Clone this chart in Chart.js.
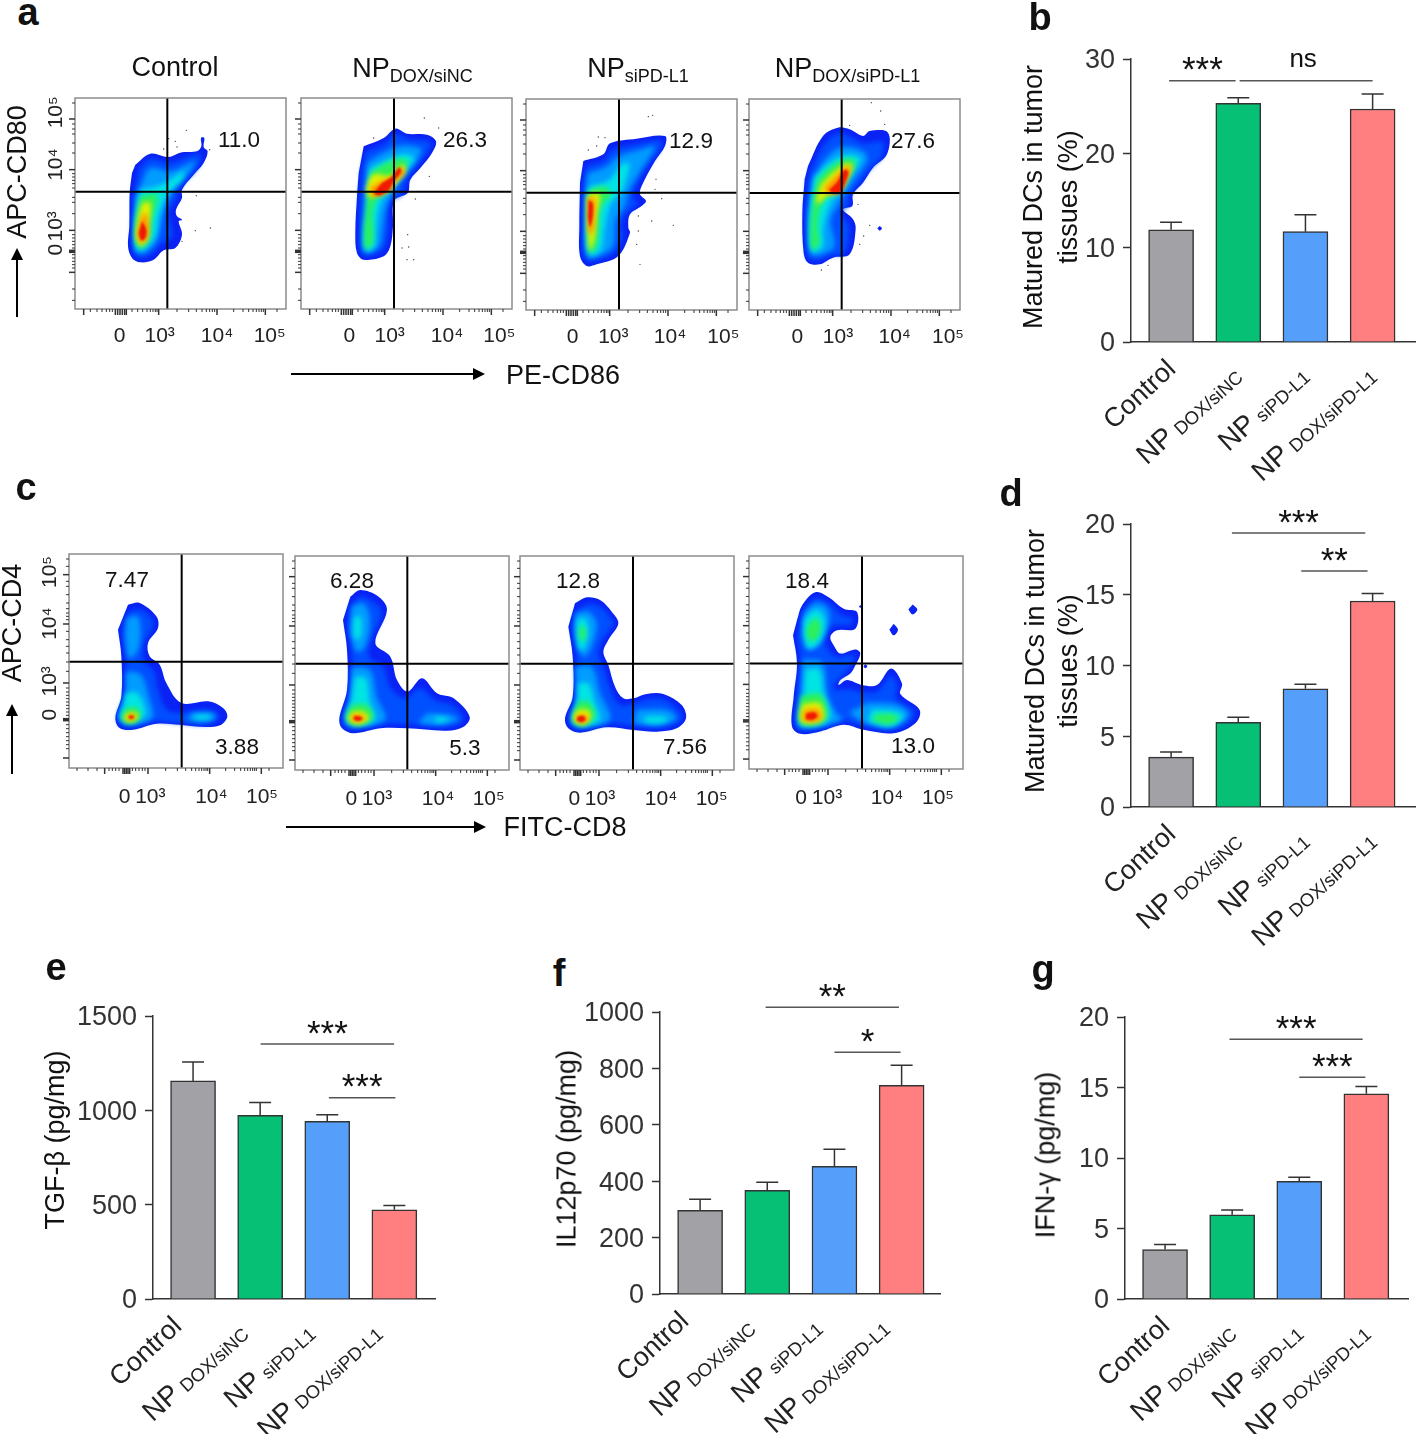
<!DOCTYPE html>
<html>
<head>
<meta charset="utf-8">
<script src="https://cdn.jsdelivr.net/npm/chart.js@4"></script>
<style>
html, body { margin: 0; background: #fff; }
#page { position: relative; width: 1416px; height: 1434px; overflow: hidden; font-family: "Liberation Sans", Arial, sans-serif; color: #111; }
#page canvas { position: absolute; }
.txt { position: absolute; white-space: nowrap; line-height: 1; transform-origin: center; }
.txt sub { font-size: 18px; vertical-align: -5px; line-height: 0; }
.line { position: absolute; background: #000; }
.head { position: absolute; width: 0; height: 0; border-style: solid; border-color: transparent; }
</style>
</head>
<body>
<div id="page"></div>
<script>
// bar panels
var catMain = ['Control', 'NP', 'NP', 'NP'];
var catSub = ['', 'DOX/siNC', 'siPD-L1', 'DOX/siPD-L1'];
var barColors = ['#a2a1a6', '#06c076', '#559ffb', '#ff7f80'];

var bValues = [11.9, 25.3, 11.7, 24.7];
var bTops = [12.7, 25.9, 13.5, 26.3];
var bTicks = [0, 10, 20, 30];
var bSigFrom = [-0.03, 1.02];
var bSigTo = [0.96, 3.0];
var bSigY = [27.7, 27.7];
var bSigText = ['***', 'ns'];

var dValues = [3.53, 5.98, 8.36, 14.56];
var dTops = [3.89, 6.34, 8.67, 15.08];
var dTicks = [0, 5, 10, 15, 20];
var dSigFrom = [0.905, 1.937];
var dSigTo = [2.89, 2.924];
var dSigY = [19.36, 16.68];
var dSigText = ['***', '**'];

var eValues = [1156, 974, 942, 473];
var eTops = [1256, 1041, 976, 496];
var eTicks = [0, 500, 1000, 1500];
var eSigFrom = [1.007, 2.024];
var eSigTo = [2.996, 3.016];
var eSigY = [1351, 1067];
var eSigText = ['***', '***'];

var fValues = [297, 368, 453, 740];
var fTops = [336, 396, 513, 811];
var fTicks = [0, 200, 400, 600, 800, 1000];
var fSigFrom = [0.975, 2.0];
var fSigTo = [2.96, 2.985];
var fSigY = [1016.5, 857];
var fSigText = ['**', '*'];

var gValues = [3.51, 5.97, 8.35, 14.55];
var gTops = [3.87, 6.32, 8.63, 15.07];
var gTicks = [0, 5, 10, 15, 20];
var gSigFrom = [0.96, 2.0];
var gSigTo = [2.945, 2.985];
var gSigY = [18.42, 15.73];
var gSigText = ['***', '***'];

// flow plots, channels run 0..633 (row a) and 0..642 (row c)
var densityColors = ['#0a22f4', '#0050ff', '#009cff', '#00e4e4', '#2cf058', '#e8ef00', '#ff9000', '#f01a00'];
var xTickLabels = ['0', '10\u00b3', '10\u2074', '10\u2075'];
var yTickLabels = ['10\u2075', '10\u2074', '10\u00b3', '0'];

var aXMajor = [26, 121, 128, 135, 142, 149, 154, 251, 426, 571];
var aXMinor = [46, 66, 81, 94, 104, 112, 171, 188, 203, 216, 226, 234, 241, 246, 306, 341, 364, 381, 394, 404, 412, 419, 476, 504, 521, 534, 544, 552, 559, 565, 606];
var aYMajor = [570, 418, 236, 170, 173, 176, 110];
var aYMinor = [618, 555, 540, 525, 498, 468, 406, 396, 386, 376, 363, 335, 320, 286, 223, 213, 203, 193, 183, 163, 153, 143, 133, 123, 60, 26];
var aYLabelAt = [590, 433, 248, 178];

var cXMajor = [107, 162, 167, 172, 177, 182, 237, 422, 577];
var cXMinor = [24, 57, 84, 120, 130, 140, 150, 190, 200, 210, 220, 228, 290, 325, 350, 368, 380, 390, 398, 405, 411, 416, 470, 497, 515, 527, 536, 544, 551, 557, 562, 600];
var cYMajor = [580, 432, 255, 142, 145, 148, 30];
var cYMinor = [627, 605, 560, 545, 520, 495, 478, 465, 455, 445, 410, 385, 365, 345, 318, 290, 240, 228, 218, 208, 198, 188, 178, 168, 158, 130, 118, 106, 94, 82, 70, 58];
var cYLabelAt = [588, 433, 260, 160];

var a1XLabelAt = [134, 254, 426, 584];
var a1GateX = 277, a1GateY = 352;
var a1Dots = [[334,536],[301,503],[281,511],[266,480],[306,486],[404,478],[364,340],[406,243],[361,235],[321,203]];
var a1Contours = [
  [0, 181,433, 226,466, 281,456, 321,470, 366,473, 379,488, 378,513, 388,513, 386,486, 398,473, 386,438, 356,403, 321,358, 321,333, 303,298, 306,278, 321,268, 311,263, 321,223, 301,183, 266,176, 236,148, 196,140, 171,153, 159,188, 163,248, 164,348, 171,408],
  [1, 191,418, 226,450, 286,438, 336,456, 376,463, 366,423, 316,368, 301,328, 281,288, 291,218, 256,193, 226,163, 191,156, 174,183, 176,338],
  [2, 196,368, 226,423, 286,413, 336,433, 361,443, 341,408, 296,358, 271,308, 246,208, 216,173, 186,168, 178,208, 181,328],
  [3, 196,358, 246,368, 286,388, 326,413, 321,388, 281,348, 251,278, 241,218, 206,178, 184,183, 181,268],
  [4, 196,338, 246,343, 231,268, 221,208, 196,183, 181,208, 184,278],
  [5, 201,318, 226,318, 221,248, 216,208, 196,190, 184,218, 191,278],
  [6, 204,288, 216,278, 219,218, 201,198, 188,218, 194,258],
  [7, 201,263, 214,238, 211,213, 198,206, 191,228]
];

var a2XLabelAt = [145, 266, 438, 595];
var a2GateX = 279, a2GateY = 352;
var a2Dots = [[370,573],[413,543],[218,513],[385,398],[343,330],[320,223],[303,183],[323,186],[318,148],[338,148]];
var a2Contours = [
  [0, 188,488, 248,513, 283,541, 318,526, 378,523, 405,503, 393,468, 358,423, 328,388, 320,348, 280,326, 276,248, 268,188, 248,158, 188,148, 168,168, 163,228, 168,338, 173,408],
  [1, 195,470, 250,495, 285,525, 320,510, 380,505, 390,495, 375,465, 340,420, 310,375, 305,345, 265,320, 262,240, 250,185, 235,170, 190,160, 178,180, 175,240, 178,340, 182,410],
  [2, 200,440, 250,470, 300,490, 360,480, 350,450, 310,400, 280,360, 255,300, 245,240, 235,190, 195,170, 185,200, 190,300],
  [3, 205,420, 255,445, 310,465, 340,450, 300,400, 275,360, 240,320, 225,240, 220,185, 195,175, 190,220, 200,300],
  [4, 210,410, 240,430, 290,450, 320,445, 290,395, 265,365, 230,335, 215,290, 215,200, 195,180, 190,230, 195,290, 200,350],
  [5, 205,390, 220,405, 270,400, 300,430, 315,425, 300,395, 270,365, 235,345, 205,335, 195,360],
  [6, 210,365, 245,385, 275,395, 305,425, 310,405, 285,385, 265,355, 235,340, 210,340],
  [7, 218,345, 240,375, 270,395, 295,425, 300,410, 280,385, 262,355, 235,340]
];

var a3XLabelAt = [140, 262, 432, 592];
var a3GateX = 279, a3GateY = 352;
var a3Dots = [[367,580],[380,584],[217,519],[237,517],[277,509],[212,492],[187,480],[390,392],[387,362],[407,334],[337,282],[377,267],[442,254],[337,237],[332,197],[342,137]];
var a3Contours = [
  [0, 172,447, 232,467, 252,500, 332,514, 417,522, 417,492, 387,447, 347,372, 342,347, 360,327, 347,312, 312,287, 307,247, 312,232, 277,162, 212,137, 182,132, 162,162, 160,252, 162,382],
  [1, 180,430, 235,450, 260,480, 335,498, 405,508, 400,480, 370,440, 330,370, 320,335, 335,320, 300,290, 285,250, 290,220, 262,170, 212,150, 185,148, 172,170, 170,250, 172,380],
  [2, 185,410, 240,430, 275,460, 340,480, 385,490, 345,420, 310,360, 295,310, 270,270, 260,190, 210,160, 185,160, 178,250, 180,360],
  [3, 190,370, 250,390, 285,435, 310,440, 300,390, 285,350, 255,320, 235,240, 225,180, 195,165, 182,200, 182,320],
  [4, 188,360, 235,370, 255,345, 225,310, 218,240, 210,190, 190,170, 185,230],
  [5, 185,345, 220,350, 212,280, 205,210, 192,180, 186,230],
  [6, 185,335, 205,335, 205,280, 197,225, 186,240],
  [7, 188,330, 200,320, 200,280, 192,250, 186,280]
];

var a4XLabelAt = [145, 267, 437, 597];
var a4GateX = 278, a4GateY = 351;
var a4Dots = [[367,622],[395,597],[407,557],[302,554],[327,317],[362,254],[344,222],[332,197],[237,134],[217,120]];
var a4Contours = [
  [0, 177,432, 222,522, 267,547, 302,542, 342,522, 362,537, 417,532, 414,467, 372,427, 342,382, 312,347, 310,312, 282,302, 312,272, 320,242, 302,167, 252,157, 212,137, 177,142, 164,172, 160,292, 167,392],
  [0, 392,252, 399,245, 392,238, 385,245],
  [1, 185,420, 225,495, 270,530, 345,500, 400,505, 400,465, 360,420, 330,380, 300,340, 295,310, 275,295, 300,250, 285,170, 245,165, 210,150, 180,155, 172,180, 170,290, 175,380],
  [2, 195,400, 235,460, 280,490, 345,475, 355,450, 320,395, 285,345, 265,310, 245,270, 255,190, 210,165, 185,170, 180,290],
  [3, 195,395, 240,440, 290,465, 335,455, 310,410, 280,360, 245,320, 222,240, 222,190, 190,175, 180,240, 185,320],
  [4, 205,390, 245,430, 300,455, 320,440, 295,395, 270,360, 225,330, 205,260, 210,200, 190,180, 185,250, 192,320],
  [5, 215,375, 250,410, 295,440, 310,430, 295,400, 270,365, 230,340, 210,320, 200,325],
  [6, 225,365, 255,395, 290,430, 305,425, 295,395, 275,355, 240,345],
  [7, 240,360, 265,385, 285,420, 298,415, 290,385, 272,350, 250,350]
];

var c1XLabelAt = [167, 244, 427, 579];
var c1GateX = 338, c1GateY = 319;
var c1Contours = [
  [0, 177,490, 212,495, 262,455, 267,420, 237,375, 242,335, 272,310, 292,255, 337,195, 417,200, 462,180, 475,155, 457,130, 412,123, 332,130, 262,133, 192,115, 152,120, 139,150, 157,215, 157,335, 147,415],
  [1, 180,470, 215,475, 250,445, 250,420, 225,375, 225,320, 255,290, 265,240, 300,170, 400,175, 445,165, 440,140, 400,130, 300,138, 240,140, 192,125, 155,130, 148,155, 170,215, 170,335, 160,410],
  [2, 172,450, 205,455, 215,410, 205,350, 180,330, 168,390],
  [2, 170,290, 215,280, 240,210, 250,150, 190,130, 155,140, 150,160, 170,220],
  [2, 370,165, 430,165, 440,150, 400,140, 350,145],
  [3, 170,225, 205,225, 230,170, 220,150, 185,138, 155,150, 165,190],
  [3, 375,158, 420,158, 425,148, 380,145],
  [4, 172,180, 205,180, 215,155, 195,135, 165,138, 158,155],
  [5, 175,165, 200,165, 207,152, 190,140, 170,142, 165,152],
  [6, 178,160, 195,160, 200,152, 187,145, 175,147],
  [7, 180,157, 192,157, 196,152, 187,147, 179,149]
];

var c2XLabelAt = [169, 246, 429, 581];
var c2GateX = 337, c2GateY = 319;
var c2Contours = [
  [0, 166,520, 196,540, 251,520, 276,480, 241,380, 286,340, 306,270, 338,235, 381,275, 426,230, 476,215, 524,160, 506,130, 456,118, 338,125, 256,125, 176,110, 141,125, 133,155, 156,240, 156,360, 144,450],
  [1, 170,500, 200,520, 240,500, 260,470, 225,380, 225,335, 265,310, 285,250, 330,215, 375,245, 420,210, 470,195, 505,160, 495,140, 450,130, 340,137, 250,137, 176,122, 150,135, 145,160, 170,240, 170,360, 158,440],
  [2, 170,490, 205,500, 225,450, 210,370, 185,355, 165,410],
  [2, 170,310, 225,300, 245,220, 270,150, 176,130, 150,145, 165,220],
  [2, 395,170, 465,165, 490,150, 430,135, 370,140],
  [3, 178,460, 195,460, 200,420, 190,390, 178,400, 175,430],
  [3, 180,280, 212,275, 225,200, 240,150, 190,135, 155,150, 170,210],
  [3, 420,160, 460,155, 450,145, 420,145],
  [4, 170,195, 215,195, 235,160, 195,135, 160,145, 155,165],
  [5, 172,175, 205,175, 222,155, 195,138, 165,145, 160,160],
  [6, 172,165, 200,165, 210,155, 190,145, 170,150],
  [7, 178,162, 197,160, 203,153, 188,147, 175,152]
];

var c3XLabelAt = [163, 240, 423, 575];
var c3GateX = 339, c3GateY = 319;
var c3Contours = [
  [0, 165,500, 200,518, 240,510, 275,475, 295,440, 265,390, 250,355, 265,315, 285,250, 310,215, 340,215, 380,228, 430,228, 485,195, 498,155, 470,125, 410,115, 340,120, 260,128, 180,112, 145,125, 135,155, 158,220, 158,340, 145,430],
  [1, 170,480, 205,498, 240,490, 270,460, 280,440, 245,385, 235,345, 250,310, 270,245, 300,195, 345,200, 380,212, 430,212, 475,180, 485,155, 460,135, 410,127, 340,132, 260,140, 180,122, 155,135, 147,158, 170,220, 170,340, 157,430],
  [2, 165,470, 205,475, 230,440, 215,370, 190,340, 165,400],
  [2, 165,310, 215,310, 240,230, 270,150, 180,130, 155,145, 170,220],
  [2, 350,180, 440,180, 470,155, 420,135, 340,140],
  [3, 170,450, 195,455, 205,420, 195,370, 178,360, 170,410],
  [3, 175,260, 205,260, 225,200, 240,150, 190,132, 160,145, 172,200],
  [3, 375,160, 430,160, 445,150, 410,140, 370,145],
  [4, 178,430, 192,430, 197,405, 187,385, 178,400],
  [4, 175,205, 205,205, 225,165, 195,135, 160,145, 160,165],
  [5, 170,180, 205,180, 212,155, 190,137, 165,145, 160,160],
  [6, 172,165, 195,165, 205,152, 185,140, 168,150],
  [7, 173,160, 190,162, 197,152, 183,143, 170,150]
];

var c4XLabelAt = [156, 234, 414, 567];
var c4GateX = 339, c4GateY = 318;
var c4Contours = [
  [0, 144,448, 159,493, 199,533, 239,518, 284,483, 324,473, 319,423, 264,418, 244,398, 254,373, 274,348, 319,360, 334,348, 319,313, 304,288, 274,268, 269,253, 294,268, 339,253, 384,253, 426,303, 459,258, 454,226, 512,178, 499,138, 434,108, 344,118, 284,133, 214,113, 154,106, 129,128, 134,218, 144,318, 132,403],
  [0, 491,496, 505,481, 491,466, 478,481],
  [0, 434,438, 447,420, 434,403, 421,420],
  [0, 349,316, 355,310, 349,304, 343,310],
  [0, 334,494, 338,490, 334,486, 330,490],
  [1, 155,450, 170,485, 200,515, 240,500, 280,462, 310,455, 305,435, 250,430, 228,398, 236,362, 265,338, 310,345, 318,335, 298,300, 262,262, 255,240, 300,240, 340,232, 385,235, 425,280, 445,250, 440,215, 495,175, 485,145, 430,120, 345,130, 284,145, 214,125, 154,118, 140,135, 145,220, 155,320, 145,400],
  [2, 165,470, 200,500, 235,485, 240,440, 215,380, 180,360, 160,400],
  [2, 160,330, 220,320, 235,230, 260,170, 280,150, 214,128, 158,125, 145,140, 155,220],
  [2, 355,200, 440,195, 480,165, 430,125, 345,140, 300,170],
  [3, 165,450, 200,480, 225,460, 225,420, 205,375, 175,365, 165,410],
  [3, 170,300, 210,300, 225,220, 245,160, 214,133, 160,130, 150,145, 165,220],
  [3, 370,180, 440,175, 465,160, 425,130, 355,145],
  [4, 175,430, 200,455, 215,430, 205,395, 185,385, 172,405],
  [4, 155,220, 215,225, 235,160, 210,138, 160,135, 150,155],
  [4, 380,165, 430,165, 450,152, 420,135, 370,145],
  [5, 160,195, 212,198, 225,155, 205,140, 160,140, 152,160],
  [6, 165,178, 205,180, 218,155, 195,142, 160,147],
  [7, 172,168, 198,170, 205,158, 190,148, 170,150]
];

var page = document.getElementById('page');
var sans = '"Liberation Sans", Arial, sans-serif';
Chart.defaults.font.family = sans;
Chart.defaults.animation = false;

function addCtx(x, y, w, h) {
  var c = document.createElement('canvas');
  c.width = w;
  c.height = h;
  c.style.left = x + 'px';
  c.style.top = y + 'px';
  page.appendChild(c);
  return c.getContext('2d');
}

function txt(html, x, y, size, opts) {
  opts = opts || {};
  var d = document.createElement('div');
  d.className = 'txt';
  d.innerHTML = html;
  d.style.left = x + 'px';
  d.style.top = y + 'px';
  d.style.fontSize = size + 'px';
  if (opts.bold) d.style.fontWeight = 'bold';
  if (opts.color) d.style.color = opts.color;
  d.style.transform = 'translate(-50%,-50%)' + (opts.rot ? ' rotate(-90deg)' : '');
  page.appendChild(d);
}

function arrowRight(x1, x2, y) {
  var l = document.createElement('div');
  l.className = 'line';
  l.style.cssText = 'left:' + x1 + 'px;top:' + (y - 1) + 'px;width:' + (x2 - x1 - 10) + 'px;height:2px';
  page.appendChild(l);
  var h = document.createElement('div');
  h.className = 'head';
  h.style.cssText = 'left:' + (x2 - 12) + 'px;top:' + (y - 6) + 'px;border-width:6px 0 6px 12px;border-left-color:#000';
  page.appendChild(h);
}

function arrowUp(x, y1, y2) {
  var l = document.createElement('div');
  l.className = 'line';
  l.style.cssText = 'left:' + (x - 1) + 'px;top:' + (y2 + 10) + 'px;width:2px;height:' + (y1 - y2 - 10) + 'px';
  page.appendChild(l);
  var h = document.createElement('div');
  h.className = 'head';
  h.style.cssText = 'left:' + (x - 6) + 'px;top:' + y2 + 'px;border-width:0 6px 12px 6px;border-bottom-color:#000';
  page.appendChild(h);
}

// error bars, brackets and the rotated group names, all placed through the scales
var barExtras = {
  id: 'barExtras',
  afterDatasetsDraw: function(chart, args, o) {
    var ctx = chart.ctx, xs = chart.scales.x, ys = chart.scales.y;
    ctx.save();
    ctx.strokeStyle = '#333';
    ctx.lineWidth = 1.5;
    o.values.forEach(function(v, i) {
      var px = xs.getPixelForValue(i), top = ys.getPixelForValue(o.tops[i]);
      ctx.beginPath();
      ctx.moveTo(px, ys.getPixelForValue(v));
      ctx.lineTo(px, top);
      ctx.moveTo(px - 11, top);
      ctx.lineTo(px + 11, top);
      ctx.stroke();
    });
    ctx.strokeStyle = '#555';
    ctx.textAlign = 'center';
    ctx.textBaseline = 'middle';
    ctx.fillStyle = '#111';
    o.sigY.forEach(function(v, i) {
      var x1 = xs.getPixelForValue(o.sigFrom[i]), x2 = xs.getPixelForValue(o.sigTo[i]), y = ys.getPixelForValue(v);
      ctx.beginPath();
      ctx.moveTo(x1, y);
      ctx.lineTo(x2, y);
      ctx.stroke();
      if (o.sigText[i] === 'ns') {
        ctx.font = '26px ' + sans;
        ctx.fillText('ns', (x1 + x2) / 2 - 3, y - 21);
      } else {
        ctx.font = '35px ' + sans;
        ctx.fillText(o.sigText[i], (x1 + x2) / 2, y - 9);
      }
    });
    ctx.fillStyle = '#222';
    ctx.textAlign = 'right';
    ctx.textBaseline = 'alphabetic';
    catMain.forEach(function(name, i) {
      ctx.save();
      var px = xs.getPixelForValue(i) + o.labelShift, py = ys.getPixelForValue(0);
      if (catSub[i]) {
        ctx.translate(px + 6, py + 37);
        ctx.rotate(-42 * Math.PI / 180);
        ctx.font = '18.5px ' + sans;
        ctx.fillText(catSub[i], 0, 0);
        var w = ctx.measureText(catSub[i]).width;
        ctx.font = '28px ' + sans;
        ctx.fillText(name, -w - 6, -1);
      } else {
        ctx.translate(px + 6, py + 29);
        ctx.rotate(-43 * Math.PI / 180);
        ctx.font = '27px ' + sans;
        ctx.fillText(name, 0, 0);
      }
      ctx.restore();
    });
    ctx.restore();
  }
};

function barPanel(l, t, r, b, values, tops, ticks, sigFrom, sigTo, sigY, sigText, labelShift) {
  var ml = 90, mt = 50, mr = 1, mb = 139, yw = 80;
  var ctx = addCtx(l - ml, t - mt, r - l + ml + mr, b - t + mt + mb);
  new Chart(ctx, {
    type: 'bar',
    data: {
      datasets: [{
        data: values.map(function(v, i) { return { x: i, y: v }; }),
        backgroundColor: barColors,
        borderColor: '#333',
        borderWidth: 1.5,
        barThickness: 45
      }]
    },
    options: {
      responsive: false,
      devicePixelRatio: 1,
      layout: { padding: { left: ml - yw, top: mt, right: mr, bottom: mb } },
      plugins: {
        legend: { display: false },
        tooltip: { enabled: false },
        barExtras: { values: values, tops: tops, sigFrom: sigFrom, sigTo: sigTo, sigY: sigY, sigText: sigText, labelShift: labelShift }
      },
      scales: {
        x: {
          type: 'linear',
          offset: false,
          min: -0.597,
          max: (r - l - 40) / 67.2,
          ticks: { display: false },
          grid: { display: false },
          border: { color: '#333', width: 1.5 },
          afterFit: function(s) { s.height = 0; }
        },
        y: {
          min: ticks[0],
          max: ticks[ticks.length - 1],
          afterBuildTicks: function(s) { s.ticks = ticks.map(function(v) { return { value: v }; }); },
          afterFit: function(s) { s.width = yw; },
          ticks: {
            color: '#333',
            padding: 8,
            labelOffset: 2,
            font: { size: 27 },
            callback: function(v) { return String(v); }
          },
          grid: { drawOnChartArea: false, tickLength: 8, tickColor: '#333', tickWidth: 1.5 },
          border: { color: '#333', width: 1.5 }
        }
      }
    },
    plugins: [barExtras]
  });
}

// frame, tick marks and the rotated y labels of a flow plot
var flowExtras = {
  id: 'flowExtras',
  beforeDatasetsDraw: function(chart) {
    var list = chart.data.datasets;
    chart.ctx.filter = list[list.length - 1].blurCss || 'none';
  },
  afterDatasetDraw: function(chart, args) {
    var next = chart.data.datasets[args.index - 1];
    chart.ctx.filter = next && next.blurCss ? next.blurCss : 'none';
  },
  afterDatasetsDraw: function(chart, args, o) {
    var ctx = chart.ctx, xs = chart.scales.x, ys = chart.scales.y, area = chart.chartArea;
    ctx.save();
    ctx.filter = 'none';
    ctx.strokeStyle = '#8c8c8c';
    ctx.lineWidth = 1.5;
    ctx.strokeRect(area.left, area.top, area.right - area.left, area.bottom - area.top);
    ctx.strokeStyle = '#333';
    function xTick(v, len) {
      var p = xs.getPixelForValue(v);
      ctx.beginPath();
      ctx.moveTo(p, area.bottom);
      ctx.lineTo(p, area.bottom + len);
      ctx.stroke();
    }
    function yTick(v, len) {
      var p = ys.getPixelForValue(v);
      ctx.beginPath();
      ctx.moveTo(area.left, p);
      ctx.lineTo(area.left - len, p);
      ctx.stroke();
    }
    ctx.lineWidth = 1;
    o.xMinor.forEach(function(v) { xTick(v, 3); });
    o.yMinor.forEach(function(v) { yTick(v, 3); });
    ctx.lineWidth = 1.5;
    o.xMajor.forEach(function(v) { xTick(v, 6); });
    o.yMajor.forEach(function(v) { yTick(v, 6); });
    if (o.yLabelAt) {
      ctx.fillStyle = '#222';
      ctx.font = '21px ' + sans;
      ctx.textAlign = 'center';
      ctx.textBaseline = 'middle';
      o.yLabelAt.forEach(function(v, i) {
        ctx.save();
        ctx.translate(area.left - 19, ys.getPixelForValue(v));
        ctx.rotate(-Math.PI / 2);
        ctx.fillText(yTickLabels[i], 0, 0);
        ctx.restore();
      });
    }
    ctx.restore();
  }
};

function contourDatasets(contours) {
  var sets = [];
  contours.forEach(function(c) {
    var pts = [];
    for (var i = 1; i < c.length; i += 2) pts.push({ x: c[i], y: c[i + 1] });
    var blur = c[0] === 0 ? 'blur(0.6px)' : (c[0] === 7 ? 'blur(1px)' : 'blur(2.5px)');
    sets.unshift({
      data: pts,
      showLine: true,
      fill: 'shape',
      tension: 0.35,
      borderWidth: 0,
      pointRadius: 0,
      backgroundColor: densityColors[c[0]],
      blurCss: blur
    });
  });
  return sets;
}

function flowPanel(l, t, r, b, range, labelPad, contours, gateX, gateY, dots, xLabelAt, xMajor, xMinor, yMajor, yMinor, yLabelAt) {
  var m = 60, xh = 45;
  var ctx = addCtx(l - m, t - m, r - l + 2 * m, b - t + 2 * m);
  var sets = [
    { data: [{ x: gateX, y: 0 }, { x: gateX, y: range }], showLine: true, borderColor: '#000', borderWidth: 2, pointRadius: 0 },
    { data: [{ x: 0, y: gateY }, { x: range, y: gateY }], showLine: true, borderColor: '#000', borderWidth: 2, pointRadius: 0 },
    { data: dots.map(function(d) { return { x: d[0], y: d[1] }; }), pointRadius: 0.7, pointBackgroundColor: '#444', pointBorderWidth: 0 }
  ].concat(contourDatasets(contours));
  new Chart(ctx, {
    type: 'scatter',
    data: { datasets: sets },
    options: {
      responsive: false,
      devicePixelRatio: 1,
      layout: { padding: { left: m, top: m, right: m, bottom: m - xh } },
      plugins: {
        legend: { display: false },
        tooltip: { enabled: false },
        flowExtras: { xMajor: xMajor, xMinor: xMinor, yMajor: yMajor, yMinor: yMinor, yLabelAt: yLabelAt }
      },
      scales: {
        x: {
          min: 0,
          max: range,
          afterBuildTicks: function(s) { s.ticks = xLabelAt.map(function(v) { return { value: v }; }); },
          afterFit: function(s) { s.height = xh; },
          grid: { display: false },
          border: { display: false },
          ticks: {
            autoSkip: false,
            maxRotation: 0,
            color: '#222',
            padding: labelPad,
            font: { size: 21 },
            callback: function(v, i) { return xTickLabels[i]; }
          }
        },
        y: { min: 0, max: range, display: false }
      }
    },
    plugins: [flowExtras]
  });
}

flowPanel(74.7, 98.3, 285.7, 309.3, 633, 7, a1Contours, a1GateX, a1GateY, a1Dots, a1XLabelAt, aXMajor, aXMinor, aYMajor, aYMinor, aYLabelAt);
flowPanel(300.7, 98.3, 512.3, 309.3, 633, 7, a2Contours, a2GateX, a2GateY, a2Dots, a2XLabelAt, aXMajor, aXMinor, aYMajor, aYMinor);
flowPanel(526, 99.3, 737.7, 310.7, 633, 7, a3Contours, a3GateX, a3GateY, a3Dots, a3XLabelAt, aXMajor, aXMinor, aYMajor, aYMinor);
flowPanel(749.3, 99.3, 960.7, 310.7, 633, 7, a4Contours, a4GateX, a4GateY, a4Dots, a4XLabelAt, aXMajor, aXMinor, aYMajor, aYMinor);

flowPanel(69.3, 554.3, 283.3, 768.3, 642, 9, c1Contours, c1GateX, c1GateY, [], c1XLabelAt, cXMajor, cXMinor, cYMajor, cYMinor, cYLabelAt);
flowPanel(294.7, 556, 508.7, 770, 642, 9, c2Contours, c2GateX, c2GateY, [], c2XLabelAt, cXMajor, cXMinor, cYMajor, cYMinor);
flowPanel(520, 556, 734, 770, 642, 9, c3Contours, c3GateX, c3GateY, [], c3XLabelAt, cXMajor, cXMinor, cYMajor, cYMinor);
flowPanel(748.7, 556, 962.7, 769.3, 642, 9, c4Contours, c4GateX, c4GateY, [], c4XLabelAt, cXMajor, cXMinor, cYMajor, cYMinor);

barPanel(1131, 59, 1415, 342, bValues, bTops, bTicks, bSigFrom, bSigTo, bSigY, bSigText, 0);
barPanel(1131, 523.7, 1415, 806.7, dValues, dTops, dTicks, dSigFrom, dSigTo, dSigY, dSigText, 0);
barPanel(152.7, 1016, 435, 1299.3, eValues, eTops, eTicks, eSigFrom, eSigTo, eSigY, eSigText, -16);
barPanel(660, 1012.3, 940, 1294.3, fValues, fTops, fTicks, fSigFrom, fSigTo, fSigY, fSigText, -16);
barPanel(1124.7, 1016.7, 1408, 1299.3, gValues, gTops, gTicks, gSigFrom, gSigTo, gSigY, gSigText, 0);

// free text
txt('a', 28, 12, 38, { bold: true });
txt('b', 1040, 17, 38, { bold: true });
txt('c', 26, 487, 38, { bold: true });
txt('d', 1011, 493, 38, { bold: true });
txt('e', 56, 967, 38, { bold: true });
txt('f', 559, 973, 38, { bold: true });
txt('g', 1043, 969, 38, { bold: true });

txt('Control', 175, 67, 27);
txt('NP<sub>DOX/siNC</sub>', 412.5, 68, 27);
txt('NP<sub>siPD-L1</sub>', 638, 68, 27);
txt('NP<sub>DOX/siPD-L1</sub>', 847.5, 68, 27);

txt('11.0', 239, 140, 22.5);
txt('26.3', 465, 140, 22.5);
txt('12.9', 691, 141, 22.5);
txt('27.6', 913, 141, 22.5);
txt('7.47', 127, 580, 22.5);
txt('3.88', 237, 747, 22.5);
txt('6.28', 352, 581, 22.5);
txt('5.3', 465, 748, 22.5);
txt('12.8', 578, 581, 22.5);
txt('7.56', 685, 747, 22.5);
txt('18.4', 807, 581, 22.5);
txt('13.0', 913, 746, 22.5);

txt('APC-CD80', 17, 172, 27, { rot: true });
txt('APC-CD4', 12, 623, 27, { rot: true });
txt('PE-CD86', 563, 375, 27);
txt('FITC-CD8', 565, 827, 27);
arrowUp(17, 317, 248);
arrowUp(12, 774, 704);
arrowRight(291, 485, 374);
arrowRight(286, 486, 827);

txt('Matured DCs in tumor', 1033, 197, 27, { rot: true });
txt('tissues (%)', 1068, 197, 27, { rot: true });
txt('Matured DCs in tumor', 1035, 661, 27, { rot: true });
txt('tissues (%)', 1068, 661, 27, { rot: true });
txt('TGF-\u03b2 (pg/mg)', 55, 1140, 27, { rot: true });
txt('IL12p70 (pg/mg)', 566.7, 1149, 27, { rot: true });
txt('IFN-\u03b3 (pg/mg)', 1046, 1155, 27, { rot: true });
</script>
</body>
</html>
